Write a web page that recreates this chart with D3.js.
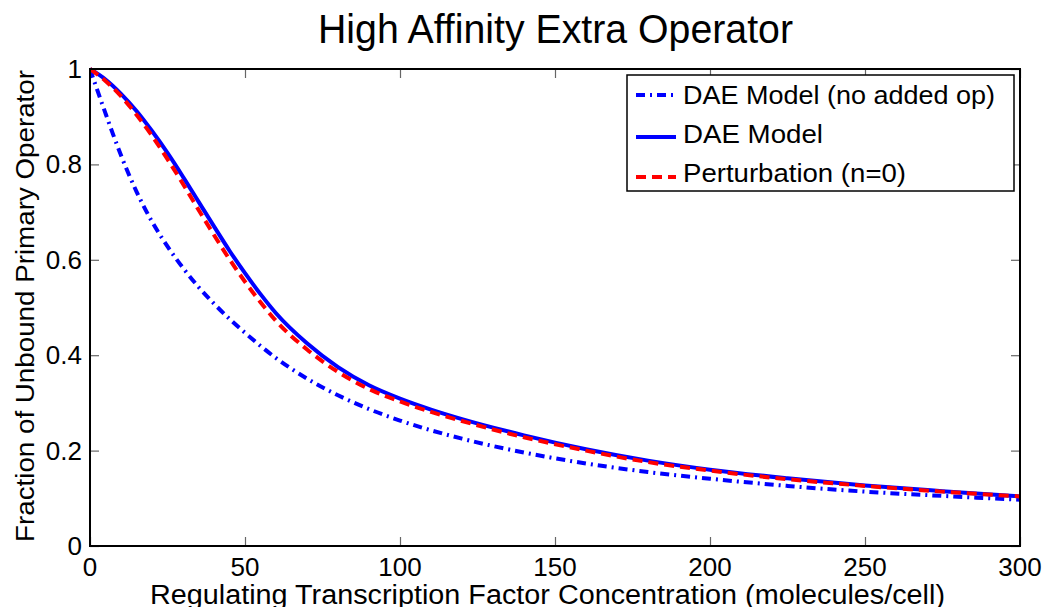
<!DOCTYPE html>
<html>
<head>
<meta charset="utf-8">
<script src="https://cdn.jsdelivr.net/npm/d3@7"></script>
<style>
  html, body { margin: 0; padding: 0; background: #fff; }
  svg { display: block; }
  text { font-family: "Liberation Sans", Arial, Helvetica, sans-serif; fill: #000; }
</style>
</head>
<body>
<svg id="chart" width="1045" height="607"></svg>
<script>
// ---- data ----
const xTicks = [0, 50, 100, 150, 200, 250, 300];
const yTicks = [0, 0.2, 0.4, 0.6, 0.8, 1];
const yTickLabels = ["0", "0.2", "0.4", "0.6", "0.8", "1"];

const noOpT = [0, 2.5, 5, 7.5, 10, 15, 20, 25, 30, 35, 40, 45, 50, 60, 70, 80, 90, 100, 120, 140, 160, 180, 200, 225, 250, 275, 300];
const noOpV = [1.0, 0.953, 0.907, 0.862, 0.819, 0.743, 0.68, 0.628, 0.583, 0.543, 0.508, 0.476, 0.447, 0.394, 0.351, 0.316, 0.287, 0.263, 0.225, 0.196, 0.173, 0.155, 0.141, 0.126, 0.114, 0.105, 0.097];

const daeT = [0, 5, 10, 15, 20, 25, 30, 35, 40, 45, 50, 55, 60, 70, 80, 90, 100, 110, 120, 140, 160, 180, 200, 225, 250, 275, 300];
const daeV = [1.0, 0.978, 0.948, 0.912, 0.870, 0.824, 0.774, 0.722, 0.67, 0.619, 0.572, 0.528, 0.488, 0.425, 0.375, 0.337, 0.309, 0.286, 0.266, 0.232, 0.203, 0.179, 0.16, 0.142, 0.127, 0.115, 0.104];

const pertT = [0, 5, 10, 15, 20, 25, 30, 35, 40, 45, 50, 55, 60, 70, 80, 90, 100, 110, 120, 140, 160, 180, 200, 225, 250, 275, 300];
const pertV = [1.0, 0.975, 0.943, 0.904, 0.86, 0.811, 0.759, 0.705, 0.652, 0.601, 0.554, 0.511, 0.472, 0.412, 0.365, 0.329, 0.303, 0.281, 0.262, 0.228, 0.2, 0.176, 0.158, 0.14, 0.126, 0.114, 0.104];

const seriesNames = ["DAE Model (no added op)", "DAE Model", "Perturbation (n=0)"];

// ---- layout ----
const svg = d3.select("#chart");
const L = 90, R = 1020, T = 69, B = 546;
const x = d3.scaleLinear().domain([0, 300]).range([L, R]);
const y = d3.scaleLinear().domain([0, 1]).range([B, T]);

const styles = [
  { color: "#0000ff", dash: "9,5,2,5", width: 4 },
  { color: "#0000ff", dash: null, width: 4 },
  { color: "#ff0000", dash: "10,6", width: 4 }
];
const series = [
  { t: noOpT, v: noOpV },
  { t: daeT, v: daeV },
  { t: pertT, v: pertV }
];

// ticks (inside, mirrored)
const tickLen = 9;
const g = svg.append("g");
const axB = d3.axisBottom(x).tickValues(xTicks).tickSizeInner(-tickLen).tickSizeOuter(0).tickFormat("");
const axT = d3.axisTop(x).tickValues(xTicks).tickSizeInner(-tickLen).tickSizeOuter(0).tickFormat("");
const axL = d3.axisLeft(y).tickValues(yTicks).tickSizeInner(-tickLen).tickSizeOuter(0).tickFormat("");
const axR = d3.axisRight(y).tickValues(yTicks).tickSizeInner(-tickLen).tickSizeOuter(0).tickFormat("");
[[axB, `translate(0,${B})`], [axT, `translate(0,${T})`], [axL, `translate(${L},0)`], [axR, `translate(${R},0)`]].forEach(([ax, tr]) => {
  const a = g.append("g").attr("transform", tr).call(ax);
  a.select(".domain").remove();
  a.selectAll(".tick line").attr("stroke", "#666").attr("stroke-width", 1.2);
});

// lines
const line = d3.line().x(d => x(d[0])).y(d => y(d[1])).curve(d3.curveMonotoneX);
svg.append("clipPath").attr("id", "clip").append("rect")
  .attr("x", L).attr("y", T - 3).attr("width", R - L).attr("height", B - T + 3);
series.forEach((s, i) => {
  const pts = s.t.map((t, k) => [t, s.v[k]]);
  svg.append("path")
    .attr("d", line(pts))
    .attr("fill", "none")
    .attr("stroke", styles[i].color)
    .attr("stroke-width", styles[i].width)
    .attr("stroke-dasharray", styles[i].dash)
    .attr("clip-path", "url(#clip)");
});

// frame
svg.append("rect").attr("x", L).attr("y", T).attr("width", R - L).attr("height", B - T)
  .attr("fill", "none").attr("stroke", "#000").attr("stroke-width", 2);

// tick labels
svg.append("g").selectAll("text").data(xTicks).join("text")
  .attr("x", d => x(d)).attr("y", 576).attr("text-anchor", "middle")
  .attr("font-size", 26).text(d => d);
svg.append("g").selectAll("text").data(yTicks).join("text")
  .attr("x", 82).attr("y", d => y(d) + 9).attr("text-anchor", "end")
  .attr("font-size", 26).text((d, i) => yTickLabels[i]);

// titles
svg.append("text").attr("x", 555.5).attr("y", 43).attr("text-anchor", "middle")
  .attr("font-size", 40).attr("textLength", 475).attr("lengthAdjust", "spacingAndGlyphs")
  .text("High Affinity Extra Operator");
svg.append("text").attr("x", 547.5).attr("y", 604).attr("text-anchor", "middle")
  .attr("font-size", 27).attr("textLength", 795).attr("lengthAdjust", "spacingAndGlyphs")
  .text("Regulating Transcription Factor Concentration (molecules/cell)");
svg.append("text").attr("transform", `translate(34,306) rotate(-90)`).attr("text-anchor", "middle")
  .attr("font-size", 26).attr("textLength", 472).attr("lengthAdjust", "spacingAndGlyphs")
  .text("Fraction of Unbound Primary Operator");

// legend
const lg = svg.append("g");
lg.append("rect").attr("x", 627).attr("y", 75).attr("width", 387).attr("height", 116)
  .attr("fill", "#fff").attr("stroke", "#000").attr("stroke-width", 1.5);
const rowY = [95, 137, 177];
const rowBase = [104, 143, 182];
const rowLen = [312, 140, 223];
seriesNames.forEach((name, i) => {
  lg.append("line").attr("x1", 636).attr("x2", 676).attr("y1", rowY[i]).attr("y2", rowY[i])
    .attr("stroke", styles[i].color).attr("stroke-width", styles[i].width)
    .attr("stroke-dasharray", styles[i].dash);
  lg.append("text").attr("x", 683).attr("y", rowBase[i]).attr("font-size", 25)
    .attr("textLength", rowLen[i]).attr("lengthAdjust", "spacingAndGlyphs").text(name);
});
</script>
</body>
</html>
